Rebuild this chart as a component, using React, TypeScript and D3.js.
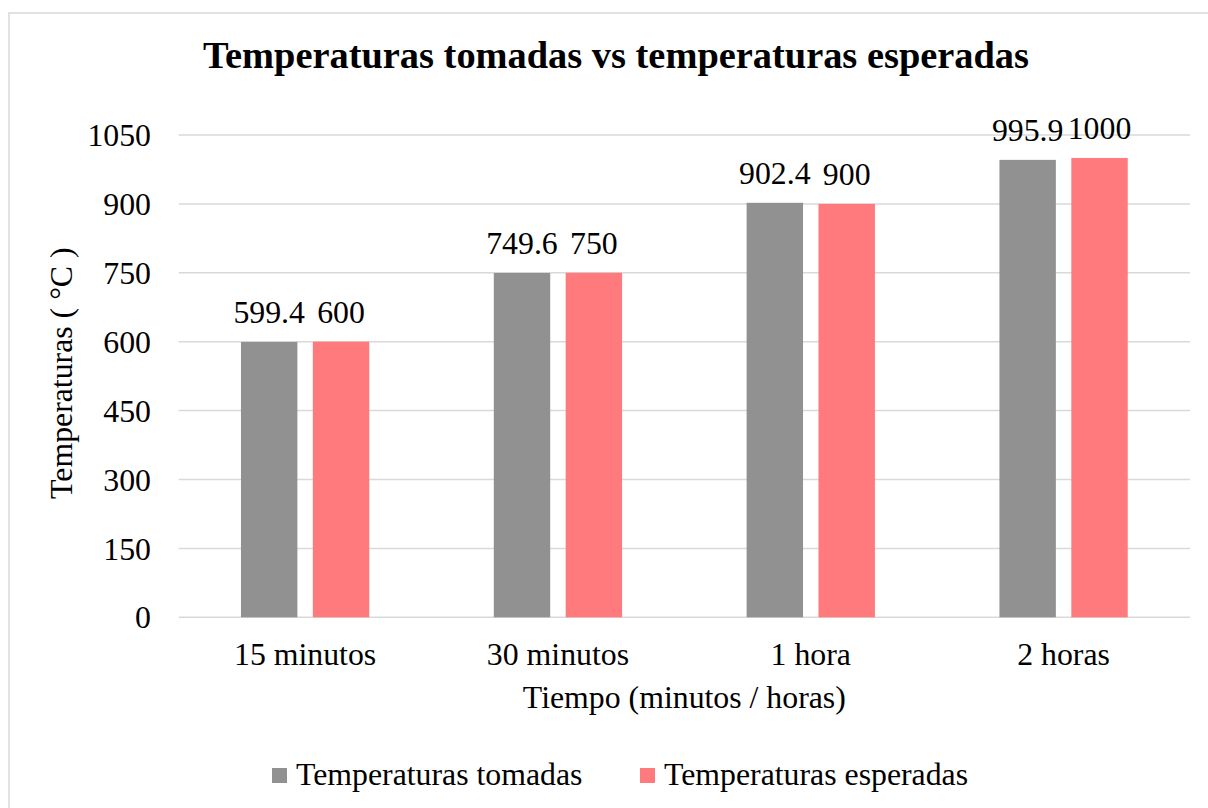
import React from "react";
import * as d3 from "d3";

const categories = ["15 minutos", "30 minutos", "1 hora", "2 horas"];
const seriesNames = ["Temperaturas tomadas", "Temperaturas esperadas"];
const tomadas = [599.4, 749.6, 902.4, 995.9];
const esperadas = [600, 750, 900, 1000];
const yTicks = [0, 150, 300, 450, 600, 750, 900, 1050];
const colors = ["#919191", "#FF7A7C"];

const FONT = "'Liberation Serif', 'Times New Roman', serif";

export default function App() {
  const W = 1208;
  const H = 808;
  const left = 178.7;
  const right = 1190;
  const top = 135;
  const bottom = 617.3;

  const x0 = d3.scaleBand<string>().domain(categories).range([left, right]).paddingInner(0).paddingOuter(0);
  const groupW = 128.3;
  const x1 = d3.scaleBand<string>().domain(seriesNames).range([0, groupW]).paddingInner(0.215).paddingOuter(0);
  const y = d3.scaleLinear().domain([0, 1050]).range([bottom, top]);
  const series = [tomadas, esperadas];
  const fs = 31.8;

  return (
    <svg width={W} height={H} style={{ position: "absolute", left: 0, top: 0, background: "#fff" }} fontFamily={FONT}>
      <rect x={0} y={0} width={W} height={H} fill="#fff" />
      <rect x={9} y={13} width={1230} height={830} fill="#fff" stroke="#d9d9d9" strokeWidth={1.5} />
      <text x={616} y={68} textAnchor="middle" fontSize={38.4} fontWeight="bold" fill="#000">
        Temperaturas tomadas vs temperaturas esperadas
      </text>
      {yTicks.map((t) => (
        <g key={t}>
          <line x1={left} x2={right} y1={y(t)} y2={y(t)} stroke="#d9d9d9" strokeWidth={1.5} />
          <text x={151} y={y(t)} dy="0.35em" textAnchor="end" fontSize={fs} fill="#000">
            {t}
          </text>
        </g>
      ))}
      {categories.map((c, i) => {
        const gx = (x0(c) as number) + (x0.bandwidth() - groupW) / 2;
        return (
          <g key={c}>
            {series.map((s, j) => {
              const bx = gx + (x1(seriesNames[j]) as number);
              return (
                <g key={j}>
                  <rect x={bx} y={y(s[i])} width={x1.bandwidth()} height={y(0) - y(s[i])} fill={colors[j]} />
                  <text x={bx + x1.bandwidth() / 2} y={y(s[i]) - 19} textAnchor="middle" fontSize={fs} fill="#000">
                    {String(s[i])}
                  </text>
                </g>
              );
            })}
            <text x={(x0(c) as number) + x0.bandwidth() / 2} y={665} textAnchor="middle" fontSize={fs} fill="#000">
              {c}
            </text>
          </g>
        );
      })}
      <text x={(left + right) / 2} y={708} textAnchor="middle" fontSize={fs} fill="#000">
        Tiempo (minutos / horas)
      </text>
      <text transform={`translate(72, ${(top + bottom) / 2 - 3}) rotate(-90)`} textAnchor="middle" fontSize={fs} fill="#000">
        Temperaturas ( °C )
      </text>
      <g>
        <rect x={272} y={768} width={15} height={15} fill={colors[0]} />
        <text x={296} y={785} fontSize={fs} fill="#000">{seriesNames[0]}</text>
        <rect x={640} y={768} width={15} height={15} fill={colors[1]} />
        <text x={664} y={785} fontSize={fs} fill="#000">{seriesNames[1]}</text>
      </g>
    </svg>
  );
}
